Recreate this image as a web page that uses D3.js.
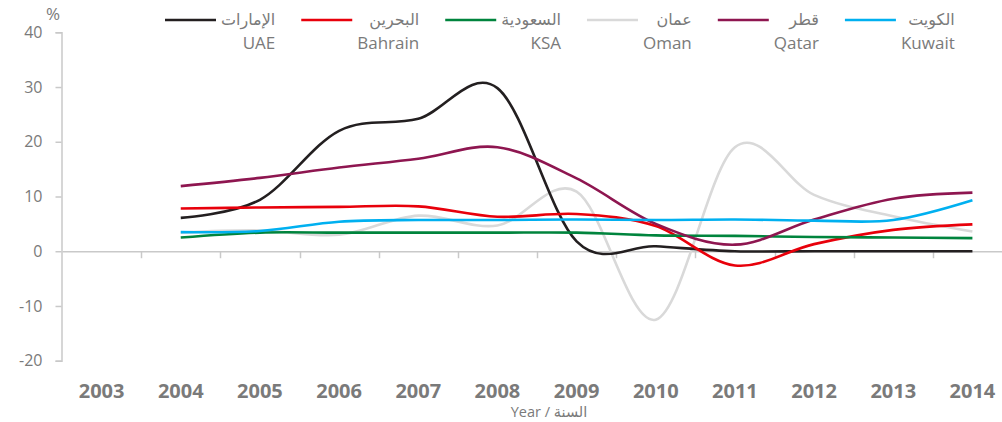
<!DOCTYPE html>
<html><head><meta charset="utf-8">
<script src="https://cdn.jsdelivr.net/npm/d3@7"></script>
<style>
html,body{margin:0;padding:0;background:#fff;}
svg{display:block;font-family:"Open Sans","DejaVu Sans",sans-serif;}
</style></head>
<body><svg id="c" width="1002" height="422"></svg>
<script>
const years = ["2003","2004","2005","2006","2007","2008","2009","2010","2011","2012","2013","2014"];
const dataYears = ["2004","2005","2006","2007","2008","2009","2010","2011","2012","2013","2014"];
const yTicks = [-20,-10,0,10,20,30,40];
const uae     = [6.1, 9.4, 22.0, 24.2, 29.8, 1.8, 0.9, 0.0, 0.0, 0.0, 0.0];
const bahrain = [7.8, 8.0, 8.1, 8.2, 6.3, 6.8, 4.6, -2.6, 1.3, 3.9, 4.9];
const ksa     = [2.5, 3.4, 3.4, 3.4, 3.4, 3.4, 2.9, 2.8, 2.6, 2.5, 2.4];
const oman    = [3.4, 3.8, 3.0, 6.5, 4.7, 10.9, -12.5, 19.0, 10.3, 6.4, 3.6];
const qatar   = [11.9, 13.4, 15.3, 16.9, 19.0, 13.3, 5.0, 1.2, 5.8, 9.6, 10.7];
const kuwait  = [3.5, 3.7, 5.4, 5.7, 5.7, 5.8, 5.7, 5.8, 5.6, 5.7, 9.3];
const namesAr = ["الإمارات","البحرين","السعودية","عمان","قطر","الكويت"];
const namesEn = ["UAE","Bahrain","KSA","Oman","Qatar","Kuwait"];
const colors  = ["#231f20","#e8000b","#00843d","#d9d9d9","#8e1650","#00b0f0"];
const seriesVals = [uae, bahrain, ksa, oman, qatar, kuwait];

const svg = d3.select("#c");
const x = d3.scaleBand().domain(years).range([62, 1012]);
const xc = d => x(d) + x.bandwidth()/2;
const y = d3.scaleLinear().domain([-20, 40]).range([360.7, 32.3]);
const axisColor = "#c9c9c9";
const textColor = "#7a7a7a";

// y axis
const ya = svg.append("g").attr("transform","translate(61.5,0)")
  .call(d3.axisLeft(y).tickValues(yTicks).tickSize(6).tickPadding(13).tickFormat(d => String(d)));
ya.select(".domain").attr("stroke", axisColor).attr("stroke-width",1.5);
ya.selectAll(".tick line").attr("stroke", axisColor).attr("stroke-width",1.5);
ya.selectAll(".tick text").attr("fill", textColor).attr("font-size","16px").attr("font-family","'Open Sans',sans-serif");

// x axis at zero
const xa = svg.append("g").attr("transform",`translate(0,${y(0)})`)
  .call(d3.axisBottom(x).tickSize(0).tickPadding(0).tickFormat(""));
xa.select(".domain").attr("stroke", axisColor).attr("stroke-width",1.5);
xa.selectAll(".tick").remove();
svg.append("g").selectAll("line").data(years.slice(1)).join("line")
  .attr("x1", d => Math.round(x(d))+0.5).attr("x2", d => Math.round(x(d))+0.5)
  .attr("y1", y(0)).attr("y2", y(0)+7)
  .attr("stroke", axisColor).attr("stroke-width",1.5);

// x labels
svg.append("g").selectAll("text").data(years).join("text")
  .attr("x", d => xc(d)).attr("y", 398)
  .attr("text-anchor","middle").attr("font-size","20px").attr("font-weight","bold")
  .attr("fill", textColor).text(d => d);

// axis titles
svg.append("text").attr("x", 549).attr("y", 417).attr("text-anchor","middle")
  .attr("font-size","14.5px").attr("fill", textColor).text("Year / السنة");
svg.append("text").attr("x", 46).attr("y", 20).attr("font-size","17px")
  .attr("fill", textColor).text("%");

// lines
const line = d3.line().x((d,i) => xc(dataYears[i])).y(d => y(d)).curve(d3.curveCardinal.tension(0));
const order = [3,0,1,2,4,5];
svg.append("g").selectAll("path").data(order).join("path")
  .attr("d", k => line(seriesVals[k]))
  .attr("fill","none").attr("stroke", k => colors[k]).attr("stroke-width",2.6)
  .attr("stroke-linejoin","round");

// legend
const lg = svg.append("g");
let lx = 165;
namesEn.forEach((en,i) => {
  const g = lg.append("g");
  g.append("line").attr("x1", lx).attr("x2", lx+51).attr("y1", 20).attr("y2", 20)
    .attr("stroke", colors[i]).attr("stroke-width", 2.6);
  const ta = g.append("text").attr("y", 25).attr("font-size","16px").attr("fill", textColor)
    .attr("text-anchor","end").attr("font-family","'DejaVu Sans',sans-serif").text(namesAr[i]);
  const te = g.append("text").attr("y", 49).attr("font-size","17px").attr("fill", textColor)
    .attr("text-anchor","end").text(en);
  const w = Math.max(ta.node().getComputedTextLength(), te.node().getComputedTextLength());
  const right = lx + 51 + 5 + w;
  ta.attr("x", right); te.attr("x", right);
  lx = right + 26;
});
</script></body></html>
